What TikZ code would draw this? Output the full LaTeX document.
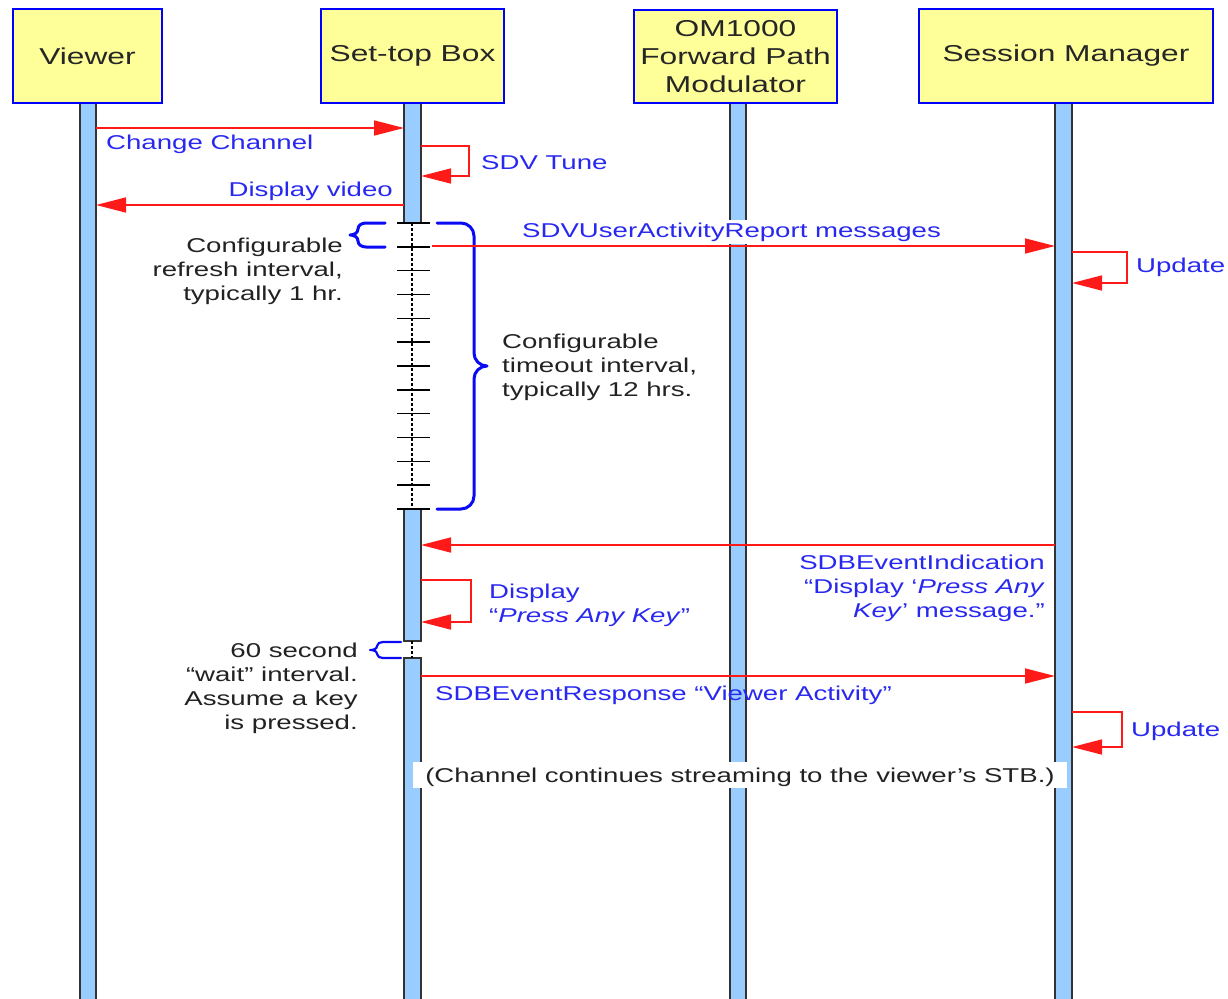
\documentclass[tikz,border=0pt]{standalone}
\usepackage{fontspec}
\setmainfont[FakeStretch=1.38]{Liberation Sans}
\usetikzlibrary{arrows.meta}
\definecolor{boxfill}{HTML}{FFFF99}
\definecolor{boxline}{HTML}{0000FF}
\definecolor{lifefill}{HTML}{99CCFF}
\definecolor{lifeedge}{HTML}{333333}
\definecolor{msgred}{HTML}{FF1A1A}
\definecolor{lblblue}{HTML}{2828F0}
\definecolor{notegray}{HTML}{222222}
\definecolor{bracecol}{HTML}{0A0AF5}
\tikzset{
  actor/.style={draw=boxline, line width=2.8pt, fill=boxfill, inner sep=0pt,
    font=\fontsize{23}{28}\selectfont, align=center, text=black!85},
  life/.style={draw=lifeedge, line width=1.8pt, fill=lifefill},
  msg/.style={draw=msgred, line width=1.6pt, -{Triangle[length=30pt,width=15pt]}},
  lbl/.style={text=lblblue, font=\fontsize{20}{24}\selectfont, inner sep=0pt},
  notetext/.style={text=notegray, font=\fontsize{20}{24}\selectfont, inner sep=0pt},
  tickmark/.style={draw=black, line width=1.6pt},
  waitline/.style={draw=black, line width=1.5pt, dash pattern=on 3pt off 2pt},
  brc/.style={draw=bracecol, line width=3pt, line join=round, line cap=round}
}
\begin{document}
\begin{tikzpicture}[x=1pt,y=-1pt]
\useasboundingbox (0,0) rectangle (1228,998);
\fill[white] (0,0) rectangle (1228,998);
\clip (0,0) rectangle (1228,998);

% lifelines
\draw[life] (80,103) rectangle (96,1002);
\draw[life] (404,103) rectangle (421,223);
\draw[life] (404,509) rectangle (421,641);
\draw[life] (404,658) rectangle (421,1002);
\draw[life] (730,103) rectangle (746,1002);
\draw[life] (1055,103) rectangle (1072,1002);

% actors
\node[actor, minimum width=149pt, minimum height=94pt] (viewer) at (87.5,56) {Viewer};
\node[actor, minimum width=183pt, minimum height=94pt] (stb) at (412.5,56) {Set-top Box};
\node[actor, minimum width=203pt, minimum height=93pt] (om) at (735.5,56.5) {OM1000\\Forward Path\\Modulator};
\node[actor, minimum width=294pt, minimum height=94pt] (sm) at (1066,56) {Session Manager};

% inactive stretches of the set-top box lifeline
\draw[waitline] (412,223) -- (412,509);
\draw[waitline] (412,641) -- (412,658);
\foreach \i in {0,...,12}
  \draw[tickmark] (397,{223+\i*23.833}) -- (430,{223+\i*23.833});

% braces
\draw[brc] (385,223) -- (366,223) to[out=180,in=90] (358,229)
  to[out=-90,in=0] (350,235) to[out=0,in=90] (358,241)
  to[out=-90,in=180] (366,247) -- (385,247);
\draw[brc] (437,223) -- (461,223) to[out=0,in=90] (474,236) -- (474,353)
  to[out=-90,in=180] (487,366) to[out=180,in=90] (474,379) -- (474,496)
  to[out=-90,in=0] (461,509) -- (437,509);
\draw[brc, line width=2.2pt] (401,642) -- (383,642) to[out=180,in=90] (377,646)
  to[out=-90,in=0] (370,650) to[out=0,in=90] (377,654)
  to[out=-90,in=180] (383,658) -- (401,658);

% labels
\node[lbl, anchor=base west] (lcc) at (106,149) {Change Channel};
\node[lbl, anchor=base west] (lsdv) at (481,169) {SDV Tune};
\node[lbl, anchor=base east] (ldv) at (393,196) {Display video};
\node[lbl, anchor=base west, fill=white, inner ysep=3pt] (lur) at (522,237) {SDVUserActivityReport messages};
\node[lbl, anchor=base west] (lup1) at (1136,272) {Update};
\node[notetext, anchor=north east, align=right] (nref) at (343,237.5)
  {Configurable\\refresh interval,\\typically 1 hr.};
\node[notetext, anchor=north west, align=left] (nto) at (502,333.5)
  {Configurable\\timeout interval,\\typically 12 hrs.};
\node[lbl, anchor=north east, align=right] (lind) at (1045,554.5)
  {SDBEventIndication\\“Display ‘\textit{Press Any}\\\textit{Key}’ message.”};
\node[lbl, anchor=north west, align=left] (ldisp) at (489,583.5)
  {Display\\“\textit{Press Any Key}”};
\node[notetext, anchor=north east, align=right] (nwait) at (358,642.5)
  {60 second\\“wait” interval.\\Assume a key\\is pressed.};
\node[lbl, anchor=base west] (lresp) at (435,700) {SDBEventResponse “Viewer Activity”};
\node[lbl, anchor=base west] (lup2) at (1131,736) {Update};
\node[notetext, fill=white, minimum width=654pt, minimum height=26pt,
  text height=16pt, text depth=2pt] (nstream) at (740,775)
  {(Channel continues streaming to the viewer’s STB.)};

% message end points
\coordinate (ccA) at (96,128);   \coordinate (ccB) at (404,128);
\coordinate (tuA) at (421,146);  \coordinate (tuB) at (421,176);
\coordinate (dvA) at (404,205);  \coordinate (dvB) at (96,205);
\coordinate (urA) at (432,246);  \coordinate (urB) at (1055,246);
\coordinate (upA) at (1072,252); \coordinate (upB) at (1072,283);
\coordinate (inA) at (1055,545); \coordinate (inB) at (421,545);
\coordinate (dpA) at (421,580);  \coordinate (dpB) at (421,622);
\coordinate (rsA) at (421,676);  \coordinate (rsB) at (1055,676);
\coordinate (uqA) at (1072,712); \coordinate (uqB) at (1072,747);

% messages
\draw[msg] (ccA) -- (ccB);
\draw[msg] (tuA) -- ++(48,0) |- (tuB);
\draw[msg] (dvA) -- (dvB);
\draw[msg] (urA) -- (urB);
\draw[msg] (upA) -- ++(55,0) |- (upB);
\draw[msg] (inA) -- (inB);
\draw[msg] (dpA) -- ++(50,0) |- (dpB);
\draw[msg] (rsA) -- (rsB);
\draw[msg] (uqA) -- ++(50,0) |- (uqB);
\end{tikzpicture}
\end{document}
